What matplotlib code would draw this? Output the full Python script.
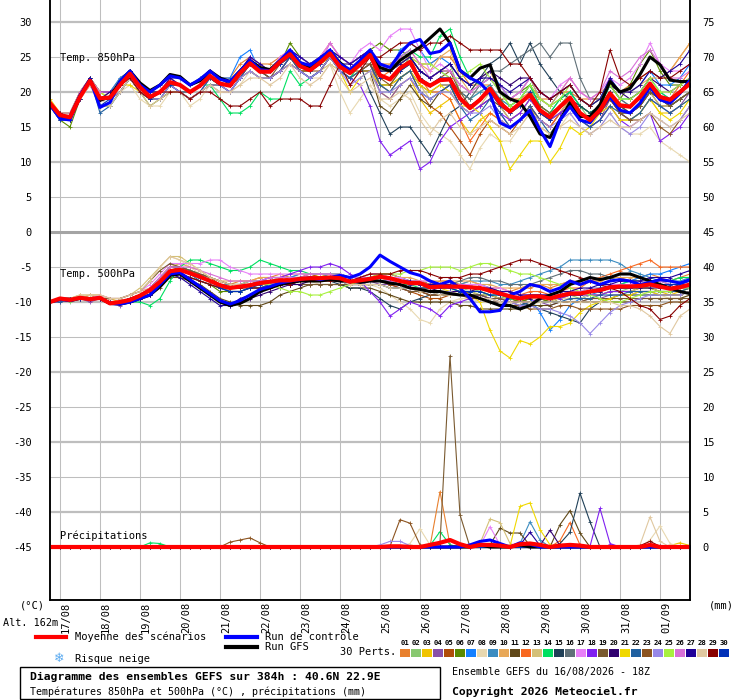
import numpy as np
import matplotlib
matplotlib.use("Agg")
import matplotlib.pyplot as plt
from matplotlib.lines import Line2D
from matplotlib.patches import Rectangle

plt.rcParams.update({
    "font.family": "DejaVu Sans Mono",
    "font.size": 7.5,
})

W, H = 740, 700

# 6h steps from 16/08 18Z, 384h
steps = np.arange(65)
day_labels = ['17/08', '18/08', '19/08', '20/08', '21/08', '22/08', '23/08', '24/08',
              '25/08', '26/08', '27/08', '28/08', '29/08', '30/08', '31/08', '01/09']
day_steps = [1 + 4 * k for k in range(16)]

pert_colors = ['#e8802e', '#88c870', '#f0c400', '#8850a8', '#b04c08', '#5a8a00', '#1480ff', '#e8d8b0',
               '#3c8cc0', '#e8a858', '#604818', '#f86820', '#d4c078', '#00e060', '#204058', '#607078',
               '#e880f8', '#8020f0', '#7a5a30', '#300070', '#f0d800', '#2060a0', '#8c5420', '#9888e8',
               '#a8f040', '#d870d8', '#200098', '#e0c8a0', '#880000', '#0030b8']

# ---- 850 hPa temperature (C)
mean_850 = [18.4, 16.7, 16.4, 19.3, 21.6, 19.1, 19.2, 21.0, 22.6, 20.7, 19.3, 20.0, 21.4, 21.0, 20.0, 20.9,
            22.3, 21.2, 20.9, 22.7, 24.1, 22.9, 22.9, 24.3, 25.4, 23.7, 23.1, 24.2, 25.5, 23.6, 22.7, 23.9,
            25.3, 22.4, 21.8, 23.4, 24.3, 21.7, 20.9, 21.7, 21.8, 19.1, 17.7, 18.9, 20.5, 18.4, 17.2, 18.4,
            19.6, 17.4, 16.4, 17.9, 19.2, 17.0, 16.0, 17.4, 19.8, 18.1, 17.9, 19.3, 21.2, 19.3, 18.9, 20.0, 21.2]
ctrl_850 = [18.2, 16.2, 16.0, 19.5, 21.8, 17.8, 18.5, 21.5, 23.0, 21.0, 20.0, 21.0, 22.3, 22.0, 21.0, 21.8,
            23.0, 21.8, 21.5, 23.0, 24.5, 23.2, 23.0, 24.5, 26.0, 24.2, 23.8, 24.8, 26.0, 24.0, 23.2, 24.5,
            26.0, 24.0, 23.5, 25.5, 27.0, 27.5, 25.5, 25.8, 27.0, 23.1, 22.0, 21.3, 19.8, 15.6, 14.9, 16.0,
            17.4, 14.6, 12.2, 16.0, 17.9, 16.0, 15.6, 17.4, 19.3, 17.4, 17.0, 18.4, 20.7, 18.9, 18.4, 19.8, 21.7]
gfs_850 = [18.3, 16.5, 16.5, 19.5, 21.8, 18.8, 19.3, 21.5, 23.0, 21.3, 20.2, 21.0, 22.5, 22.2, 21.0, 21.6,
           23.0, 22.0, 21.5, 23.0, 24.5, 23.5, 23.2, 24.5, 25.8, 24.2, 23.5, 24.5, 25.8, 24.2, 23.0, 24.3,
           25.8, 23.5, 23.0, 24.5, 25.5, 26.4, 27.7, 29.0, 27.0, 23.1, 22.0, 23.4, 23.9, 20.0, 19.0, 18.5,
           16.5, 14.0, 13.5, 16.0, 18.5, 16.5, 16.5, 18.2, 21.5, 20.0, 20.5, 22.5, 25.0, 23.9, 21.7, 21.5, 21.5]
pert_850 = [
    [18,17,17,20,22,20,20,22,23,21,20,21,22,22,21,22, 23,22,22,24,25,24,24,25,26,25,24,25,27,25,24,25, 26,24,24,25,25,24,24,25,25,23,21,21,21,19,19,19,20,19,19,20,20,19,19,19,21,20,21,22,23,22,23,25,27],
    [18,17,16,19,22,19,19,21,22,20,19,20,21,21,20,21, 22,21,20,22,23,22,22,23,25,23,22,23,25,23,22,23, 24,21,21,23,25,23,22,23,24,20,19,20,21,19,18,19,21,17,16,18,20,18,16,17,20,18,17,18,20,19,18,19,20],
    [19,17,17,20,22,20,20,21,23,21,20,20,22,21,20,21, 22,21,21,22,24,23,22,23,25,23,23,24,25,23,22,23, 23,20,19,21,22,19,17,18,19,16,14,16,17,16,15,16,18,15,14,16,18,16,15,16,18,16,16,17,19,17,17,18,19],
    [18,16,16,19,21,19,19,20,22,20,19,19,21,20,19,20, 21,20,20,22,23,22,22,23,24,23,22,23,25,23,22,23, 24,20,19,21,22,20,19,20,21,18,17,18,19,17,15,16,18,16,15,17,18,16,15,16,19,17,16,17,19,18,17,18,20],
    [18,17,16,19,22,19,20,21,23,21,19,20,21,21,20,21, 22,21,21,23,24,23,23,24,26,24,23,24,25,24,23,24, 25,21,20,22,23,20,18,17,15,13,11,14,16,15,14,16,18,16,15,17,19,17,16,18,20,18,17,18,20,19,18,19,20],
    [18,16,15,19,22,18,18,20,22,20,18,19,20,20,19,20, 21,21,21,23,24,23,23,24,27,25,24,25,26,25,24,25, 26,27,26,26,25,23,22,23,23,21,20,21,22,20,19,20,21,19,18,19,20,18,17,18,21,19,21,24,26,23,21,21,22],
    [18,17,17,20,22,20,20,22,23,21,20,21,22,22,21,22, 23,22,22,25,26,23,23,24,26,25,24,25,26,25,24,25, 26,24,23,26,27,26,24,25,24,22,21,22,23,21,19,20,22,19,18,20,21,19,18,19,22,20,20,21,23,21,21,22,24],
    [18,16,16,19,21,19,18,20,21,19,18,18,20,20,18,19, 21,20,20,21,23,22,22,23,24,23,22,22,24,20,17,19, 21,19,18,19,20,17,15,14,13,11,9,12,14,13,13,15,17,15,14,15,17,15,14,15,17,15,14,14,15,13,12,11,10],
    [18,17,16,19,22,19,19,21,23,21,19,20,21,21,20,21, 22,22,21,23,25,23,23,24,26,24,23,24,26,24,23,24, 26,23,23,24,25,23,22,23,22,20,19,20,21,19,18,19,21,18,17,19,20,18,17,18,21,19,18,19,21,20,19,20,22],
    [18,17,17,19,22,20,19,21,23,21,20,20,22,21,20,21, 23,22,21,23,25,24,23,24,26,24,24,25,26,25,24,25, 25,23,24,25,26,24,23,25,26,22,20,22,23,20,19,20,22,19,18,20,22,20,19,20,21,20,20,21,22,22,23,25,27],
    [18,16,16,19,22,19,19,20,22,20,19,19,20,20,19,20, 21,21,20,22,23,22,22,23,25,23,22,23,25,23,22,23, 23,18,17,19,21,19,18,20,21,18,17,18,19,18,16,17,19,17,16,17,18,17,16,17,19,17,17,18,20,18,18,19,20],
    [18,17,16,19,22,19,19,21,23,21,19,20,21,21,20,21, 22,21,21,23,24,23,23,24,26,24,23,24,26,24,23,24, 25,22,23,24,25,22,20,20,19,16,13,15,17,16,15,16,18,16,15,17,19,17,16,17,20,18,17,18,21,19,19,21,23],
    [18,17,16,19,21,19,19,21,22,20,19,19,21,20,19,20, 22,21,20,22,23,22,22,23,24,23,22,23,24,23,22,23, 24,21,20,22,23,21,19,20,20,18,17,18,20,18,16,17,19,17,16,17,19,17,16,17,19,18,17,18,20,18,18,19,20],
    [18,17,16,19,22,19,19,21,23,21,19,20,21,21,20,21, 21,19,17,17,18,20,19,19,23,21,22,23,25,23,22,24, 25,23,23,25,26,25,25,28,29,25,22,21,22,20,18,19,21,18,17,19,20,18,17,18,21,19,19,20,22,20,19,20,21],
    [18,17,16,19,22,19,19,21,22,20,19,20,21,20,20,21, 22,21,21,23,24,23,23,24,25,24,23,24,25,24,23,24, 20,17,14,15,15,13,11,14,17,18,20,22,24,25,27,24,27,24,22,20,19,18,17,18,20,18,17,18,20,19,18,19,20],
    [18,17,16,19,22,19,19,21,23,21,19,20,21,21,20,21, 22,21,21,23,24,23,23,24,25,24,23,24,26,24,23,24, 25,22,22,23,24,22,21,22,22,20,19,21,23,23,24,25,26,27,25,27,27,22,19,19,21,19,18,19,21,19,19,20,21],
    [18,17,17,20,22,20,20,21,23,21,20,20,22,21,20,21, 23,22,21,23,25,23,23,25,26,25,24,25,27,25,24,26, 27,26,28,29,29,26,23,24,23,21,20,21,22,20,19,20,22,20,19,21,22,20,19,20,22,21,22,24,27,24,23,23,24],
    [18,17,16,19,22,19,19,21,22,20,19,20,21,20,19,20, 22,21,20,22,24,23,22,23,25,23,22,23,25,23,22,21, 18,13,11,12,13,9,10,13,15,16,17,18,19,17,16,17,19,17,16,17,18,16,15,16,18,16,15,16,17,13,14,15,17],
    [18,17,16,19,22,19,19,20,22,20,19,20,21,21,20,21, 22,21,21,22,24,23,22,24,25,23,23,24,25,24,23,24, 24,21,21,22,23,21,20,21,21,19,18,19,20,19,17,18,20,17,16,18,19,17,16,17,19,17,17,18,20,19,18,19,20],
    [18,17,16,19,22,20,20,21,23,21,20,20,21,21,20,21, 22,22,21,23,24,23,23,24,26,24,23,24,26,24,24,25, 26,23,23,24,25,23,22,23,24,22,21,22,23,22,21,22,22,20,19,20,21,19,18,19,21,20,19,20,22,21,20,21,22],
    [18,17,17,20,22,20,19,21,21,20,19,20,21,21,20,21, 22,21,21,23,24,23,23,24,25,24,23,24,25,23,20,22, 23,21,21,22,23,21,20,21,20,18,18,17,15,13,9,11,13,13,10,12,15,14,15,17,18,16,16,17,19,17,16,17,19],
    [18,16,16,19,22,17,18,20,22,20,19,19,21,20,19,20, 22,21,20,22,24,23,22,23,25,23,22,23,25,23,22,23, 24,21,20,22,23,20,19,20,21,18,16,17,19,17,15,16,18,16,14,16,18,16,15,16,18,17,16,17,19,18,17,18,19],
    [18,17,16,19,22,19,19,21,23,21,19,20,21,21,20,21, 22,21,21,23,24,23,22,23,24,23,23,23,25,24,23,23, 24,22,21,23,24,22,21,22,23,20,18,19,20,19,17,18,20,18,17,18,19,17,16,17,19,17,16,16,17,15,14,16,18],
    [18,17,16,19,22,19,19,20,22,20,19,19,21,20,19,20, 21,21,20,22,23,22,22,23,24,23,22,23,25,23,21,22, 23,20,20,21,22,20,19,20,20,18,17,17,18,16,15,16,17,16,15,16,17,15,14,15,17,15,14,15,17,16,15,16,18],
    [18,17,17,19,22,20,19,21,23,21,20,20,21,21,20,21, 22,22,21,23,24,23,23,24,26,24,23,24,26,24,23,24, 25,23,23,24,25,24,24,23,22,22,23,24,22,20,18,19,21,19,18,19,21,19,18,19,21,19,19,20,22,20,20,21,22],
    [18,17,17,20,22,20,20,21,23,21,20,21,22,21,20,21, 22,22,21,23,25,24,23,24,26,24,24,24,27,25,24,25, 26,24,23,25,26,24,22,23,23,21,20,21,22,21,19,20,22,20,19,20,22,20,19,20,23,22,23,25,26,24,22,22,23],
    [18,17,16,19,22,19,20,21,23,21,20,20,22,21,20,21, 23,22,21,23,25,24,23,24,26,25,24,25,26,25,24,25, 26,23,23,24,25,23,22,23,24,22,21,22,22,21,20,21,22,20,19,20,21,19,18,19,22,20,20,21,23,22,23,24,26],
    [18,16,16,19,21,18,18,20,22,20,18,19,20,20,19,20, 21,20,20,21,22,22,21,22,24,22,21,22,24,22,20,21, 22,19,19,20,19,16,14,16,17,15,14,15,16,15,14,15,17,15,14,15,16,15,14,15,16,15,15,16,17,16,15,16,17],
    [18,17,16,19,22,19,19,21,22,20,19,20,20,20,19,20, 20,19,18,18,19,20,18,19,19,19,18,18,21,24,21,23, 25,25,26,27,27,26,27,27,28,27,26,26,26,26,24,24,22,20,19,20,21,19,18,20,26,22,21,22,23,22,22,23,24],
    [18,16,16,19,22,18,19,21,23,21,19,20,21,21,20,21, 22,21,21,23,24,23,23,24,25,24,23,24,26,24,23,24, 25,22,22,23,24,22,21,22,22,19,18,19,20,18,17,18,20,17,16,18,19,17,16,17,20,18,18,19,21,19,19,20,21],
]

# ---- 500 hPa temperature (C)
mean_500 = [-10.0, -9.5, -9.7, -9.4, -9.6, -9.4, -10.2, -10.0, -9.7, -9.1, -8.3, -7.1, -5.6, -5.4, -5.9, -6.4,
            -7.0, -7.6, -8.0, -7.8, -7.6, -7.3, -7.1, -6.9, -6.9, -6.7, -6.6, -6.6, -6.5, -6.6, -7.1, -6.9,
            -6.7, -6.4, -6.6, -7.0, -7.3, -7.3, -7.9, -7.8, -7.8, -7.8, -7.9, -8.0, -8.4, -8.8, -9.2, -9.5,
            -9.2, -9.2, -9.5, -9.1, -8.8, -8.8, -8.5, -8.3, -7.9, -7.8, -7.8, -7.7, -7.5, -7.8, -8.1, -7.9, -7.5]
ctrl_500 = [-10.0, -9.6, -9.8, -9.4, -9.6, -9.4, -10.2, -10.3, -10.0, -9.5, -9.0, -7.5, -6.0, -5.8, -6.8, -7.8,
            -8.8, -9.8, -10.3, -9.8, -9.0, -8.2, -7.8, -7.3, -7.0, -6.8, -6.5, -6.8, -6.5, -6.2, -6.5, -6.0,
            -5.0, -3.3, -4.2, -5.0, -5.8, -6.2, -7.0, -7.5, -7.0, -8.0, -9.5, -11.4, -11.4, -11.2, -9.0, -8.5,
            -7.5, -7.8, -8.5, -8.0, -7.0, -7.5, -7.0, -7.5, -7.0, -6.8, -7.0, -7.5, -7.2, -6.8, -7.0, -7.3, -6.8]
gfs_500 = [-10.0, -9.6, -9.8, -9.5, -9.5, -9.5, -10.2, -10.3, -10.0, -9.5, -9.0, -7.8, -6.2, -6.0, -7.0, -8.0,
           -9.0, -10.0, -10.5, -10.2, -9.5, -8.5, -8.0, -7.5, -7.2, -7.0, -7.0, -7.0, -6.8, -7.0, -7.0, -7.2,
           -7.0, -7.0, -7.3, -7.5, -8.0, -8.2, -8.5, -8.5, -8.8, -9.0, -9.0, -9.5, -10.0, -10.5, -10.5, -11.0,
           -10.5, -9.5, -9.0, -8.5, -7.5, -7.0, -6.5, -6.8, -6.5, -6.0, -6.0, -6.5, -7.0, -7.5, -8.0, -8.5, -8.8]
pert_500 = [
    [-10,-9.5,-9.5,-9.5,-9.5,-9.5,-10,-10,-9.5,-9, -8,-6.5,-5,-5,-5.5,-6,-6.5,-7,-7.5,-7, -7,-6.5,-6.5,-6,-6.5,-6,-6,-6,-6,-6, -6.5,-6.5,-6,-6,-6.5,-6.5,-7,-7,-7.5,-7, -7,-7.5,-7,-7.5,-8,-8,-8.5,-8,-8,-7.5, -8,-7.5,-7,-7.5,-7,-7,-6.5,-6.5,-7,-6.5, -6,-6.5,-7,-6.5,-6],
    [-10,-9.5,-10,-9.5,-9.5,-9.5,-10,-10,-10,-9.5, -9,-7.5,-6,-5.5,-6,-6.5,-7,-7.5,-8.5,-8.5, -8,-7.5,-7.5,-7,-7,-7,-6.5,-7,-7,-7, -7.5,-7.5,-7,-7,-7,-7.5,-8,-8,-8.5,-8.5, -8.5,-8.5,-8,-8.5,-9,-9.5,-9,-10,-9.5,-9.5, -10,-9.5,-9,-9.5,-9,-9,-8.5,-8.5,-8,-8, -8,-8.5,-8.5,-8,-8],
    [-10,-9.5,-9.5,-9,-9.5,-9,-9.5,-10,-9.5,-9, -8,-6.5,-5,-5,-5.5,-6,-6.5,-7,-7.5,-7.5, -7.5,-7,-7,-7,-6.5,-6.5,-6.5,-6,-6.5,-6.5, -7,-7,-6.5,-6.5,-7,-7.5,-8,-8,-8.5,-8.5, -8.5,-9,-9,-9.5,-9.5,-10,-10,-10.5,-10,-10, -10,-9.5,-9.5,-9.5,-9,-9,-8.5,-8.5,-8.5,-8, -8,-8.5,-9,-8.5,-8],
    [-10,-10,-9.5,-9.5,-10,-9.5,-10,-10.5,-10,-9.5, -9,-7.5,-6,-6,-6.5,-7,-7.5,-8,-8.5,-8.5, -8,-8,-7.5,-7.5,-7.5,-7,-7,-7,-7,-7, -7.5,-7.5,-7,-7.5,-7.5,-8,-8.5,-8.5,-9,-9, -9,-9,-9,-9.5,-10,-10.5,-10,-10.5,-10,-10, -10.5,-10,-10,-10,-9.5,-9.5,-9,-9,-9,-8.5, -8.5,-9,-9,-9,-8.5],
    [-10,-9.5,-9.5,-9.5,-9,-9.5,-10,-10,-9.5,-9, -8.5,-7,-5.5,-5,-5.5,-6,-6.5,-7.5,-8,-8, -7.5,-7,-7,-7,-6.5,-6.5,-6,-6.5,-6.5,-6.5, -7,-7,-6.5,-7,-7.5,-8,-8.5,-9,-9.5,-9.5, -9,-9,-8.5,-8.5,-9,-9.5,-9.5,-10,-9.5,-9.5, -10,-9.5,-9,-9,-8.5,-8.5,-8,-8,-8,-7.5, -7.5,-8,-8,-8,-7.5],
    [-10,-9.5,-9.5,-9.5,-9.5,-9.5,-10,-10,-9.5,-9, -8.5,-7.5,-6,-6,-6.5,-7,-7.5,-8.5,-8.5,-8.5, -8,-8,-7.5,-7,-7,-7,-6.5,-6.5,-7,-7, -7.5,-7,-6.5,-6,-6,-6.5,-7,-7,-7.5,-8, -8,-8.5,-8.5,-9,-9,-9.5,-9.5,-10,-9.5,-9.5, -10,-9.5,-9.5,-9.5,-9,-9,-8.5,-8.5,-8.5,-8, -8,-8.5,-8.5,-8.5,-8],
    [-10,-9.5,-9.5,-9.5,-9.5,-9.5,-10,-10,-9.5,-9, -8,-6.5,-5,-5,-5.5,-6,-6.5,-7,-7.5,-7.5, -7,-7,-6.5,-6.5,-6.5,-6,-6,-6,-6,-6, -6.5,-6.5,-6,-6,-6,-6.5,-7,-7,-7.5,-7.5, -7.5,-7.5,-7.5,-7.5,-8,-8.5,-8.5,-9,-9.5,-11.5, -14,-12.5,-10.5,-9.5,-9,-8.5,-8,-7.5,-7,-6.5, -6,-6,-5.5,-5,-4.5],
    [-10,-9.5,-9.5,-9,-9.5,-9,-9.5,-9.5,-9,-8.5, -7,-5,-3.5,-4,-5,-6,-7,-7.5,-8,-8, -7.5,-7.5,-7,-7,-7,-7,-7,-7.5,-7.5,-7.5, -8,-8,-7.5,-8,-9,-10,-11,-12.5,-13,-11, -10,-9.5,-9.5,-10,-10,-10.5,-10.5,-11,-10.5,-10, -10,-9.5,-9.5,-9.5,-9,-9,-8.5,-8.5,-8.5,-8.5, -9,-9,-9.5,-9.5,-9],
    [-10,-9.5,-9.5,-9.5,-9.5,-9.5,-10,-10,-9.5,-9, -8.5,-7,-5.5,-5.5,-6,-6.5,-7,-7.5,-7.5,-7.5, -7,-7,-7,-6.5,-6.5,-6.5,-6.5,-6.5,-6,-6, -6.5,-6.5,-6.5,-6.5,-6.5,-7,-7,-7,-7.5,-7.5, -7.5,-7.5,-7,-7,-7,-7.5,-7.5,-7,-6.5,-6, -5.5,-5,-4,-4,-4,-4,-4,-4.5,-5.5,-6, -6.5,-7,-7,-7,-6.5],
    [-10,-9.5,-9.5,-9.5,-9,-9,-9.5,-9.5,-9,-8.5, -8,-6.5,-5,-4.5,-5,-5.5,-6.5,-7,-7,-7, -7,-6.5,-6.5,-6.5,-6,-6,-6,-6,-6,-6, -6.5,-6.5,-6,-6,-6,-6.5,-6.5,-7,-7,-7, -7,-7,-7,-7.5,-7.5,-8,-8,-8,-7.5,-7.5, -7.5,-7.5,-7,-7,-7,-7,-6.5,-6.5,-6.5,-6.5, -7,-7,-7,-6.5,-6.5],
    [-10,-9.5,-9.5,-9.5,-9.5,-9.5,-10,-10,-10,-9.5, -9,-8,-6.5,-6.5,-7,-7.5,-8.5,-9.5,-10,-10.5, -10.5,-10.5,-10,-9,-8.5,-8,-7.5,-7.5,-7.5,-7.5, -8,-8,-8,-8.5,-9,-9.5,-10,-10,-10,-10, -10,-10.5,-10.5,-11,-11,-11,-11,-11,-10.5,-10.5, -10.5,-10,-10,-10,-10,-10,-10,-10,-10,-9.5, -9.5,-9.5,-9.5,-9.5,-9],
    [-10,-9.5,-9.5,-9.5,-9.5,-9.5,-10,-10,-9.5,-9, -8.5,-7,-5.5,-5.5,-6,-6.5,-7,-7.5,-8,-8, -7.5,-7.5,-7,-7,-7,-6.5,-6.5,-6.5,-6.5,-6.5, -7,-7,-6.5,-6.5,-6.5,-7,-7,-7,-7.5,-7.5, -8,-8,-8,-8,-8,-8.5,-8.5,-9,-8.5,-8.5, -9,-8.5,-8,-8,-7,-6.5,-6,-5.5,-5,-4.5, -4,-5,-5,-5,-5],
    [-10,-9.5,-9.5,-9,-9,-9,-9.5,-9.5,-9,-8, -6.5,-5,-3.5,-3.5,-4.5,-5.5,-6.5,-7,-7.5,-7.5, -7,-7,-7,-6.5,-6.5,-6.5,-6.5,-6.5,-6.5,-6.5, -7,-7,-7,-7,-7,-7.5,-8,-8,-8.5,-8.5, -8.5,-8.5,-8.5,-9,-9,-9.5,-9.5,-9.5,-9.5,-9.5, -9.5,-9.5,-9,-9,-9,-9,-8.5,-8.5,-8.5,-8, -8,-8.5,-8.5,-8.5,-8],
    [-10,-9.5,-9.5,-9.5,-9.5,-9.5,-10,-10,-10,-10, -10.5,-9.5,-7,-5,-4,-4,-4.5,-5,-5.5,-5.5, -5,-4,-4.5,-5,-5.5,-5.5,-6,-6,-6,-6, -6.5,-6.5,-6.5,-7,-7,-7.5,-7.5,-8,-8,-8, -8,-8.5,-8.5,-8.5,-9,-9,-9.5,-9.5,-9,-9, -9,-9,-8.5,-8.5,-8,-8,-7.5,-7.5,-7,-7, -7,-7,-7,-6.5,-6.5],
    [-10,-9.5,-9.5,-9.5,-9.5,-9.5,-10,-10,-9.5,-9, -8.5,-7,-5.5,-5.5,-6,-6.5,-7,-7.5,-8,-8, -7.5,-7.5,-7,-7,-7,-7,-7,-7,-7,-7.5, -8,-8,-8.5,-9.5,-10.5,-11,-10,-9.5,-9,-9, -9,-9,-9,-9,-9.5,-10,-10,-10,-10.5,-11, -11.5,-12,-12.5,-13,-11,-10,-9.5,-9,-9,-9, -9,-9,-9,-9,-8.5],
    [-10,-9.5,-9.5,-9.5,-9.5,-9.5,-10,-10,-9.5,-9, -8,-6.5,-5,-5,-5.5,-6,-7,-7.5,-8,-8, -7.5,-7,-7,-7,-7,-6.5,-6.5,-6.5,-6.5,-6.5, -7,-7,-6.5,-6.5,-6.5,-7,-7.5,-7.5,-7.5,-7.5, -7.5,-7,-6.5,-6.5,-7,-7,-7.5,-7.5,-7.5,-7, -6.5,-6,-5.5,-5.5,-6,-6,-6.5,-7,-7,-7, -7,-7,-7.5,-7.5,-7],
    [-10,-9.5,-9.5,-9.5,-9.5,-9,-9.5,-9.5,-9,-8.5, -7.5,-6,-4.5,-4.5,-4.5,-4.5,-4,-4,-5,-5.5, -6,-6,-6,-6,-6,-6,-6,-6,-6,-6, -6.5,-6.5,-6,-6,-6.5,-6.5,-7,-7,-7,-7.5, -7.5,-7.5,-7.5,-7.5,-8,-8,-8.5,-9,-9,-9, -9,-8.5,-8.5,-8.5,-8,-8,-7.5,-7.5,-7.5,-7, -7,-7.5,-7.5,-7.5,-7],
    [-10,-9.5,-9.5,-9.5,-9.5,-9.5,-10,-10,-9.5,-9, -8.5,-7,-5.5,-5.5,-6,-6.5,-7,-7.5,-8,-8, -7.5,-7,-6.5,-6.5,-6,-5.5,-5,-5,-4.5,-5, -6,-7,-8.5,-10,-12,-11,-10,-10.5,-11,-12, -10.5,-10,-9.5,-9,-9.5,-9.5,-10,-10,-10,-9.5, -9.5,-9.5,-9,-9,-9,-9,-8.5,-8.5,-8.5,-8.5, -8.5,-8.5,-8.5,-8,-8],
    [-10,-9.5,-9.5,-9.5,-9.5,-9.5,-9.5,-9.5,-9,-8.5, -7,-5.5,-4.5,-5,-5.5,-6,-6.5,-7,-7.5,-7.5, -7.5,-7.5,-7.5,-7.5,-7.5,-7.5,-7.5,-7.5,-7.5,-7.5, -7.5,-7.5,-7.5,-7.5,-8,-8,-8.5,-8.5,-9,-9, -9,-9,-9,-9,-9.5,-9.5,-10,-10,-10,-10, -10,-10,-10,-10,-9.5,-9.5,-9.5,-9.5,-9.5,-9.5, -9.5,-9.5,-9.5,-9.5,-9.5],
    [-10,-9.5,-9.5,-9.5,-9.5,-9.5,-10,-10,-10,-9.5, -9,-7.5,-6,-6,-7,-8,-9,-10,-10.5,-10, -9.5,-9,-8.5,-8,-7.5,-7.5,-7,-7,-7,-7, -7.5,-7.5,-7,-7,-7,-7.5,-8,-8,-8,-8.5, -8.5,-8.5,-8.5,-8,-8.5,-9,-9,-9.5,-9.5,-9, -9.5,-9,-9,-9,-8.5,-8.5,-8,-8,-8,-8, -8,-8,-8,-7.5,-7.5],
    [-10,-9.5,-9.5,-9.5,-9.5,-9.5,-10,-10,-9.5,-9, -8.5,-7,-5.5,-5.5,-6,-6.5,-7,-7.5,-8,-8, -7.5,-7.5,-7,-7,-7,-6.5,-6.5,-6.5,-6.5,-6.5, -7,-7,-6.5,-6.5,-7,-7,-7.5,-7.5,-8,-8, -8.5,-9,-9,-10,-14,-17,-18,-15.5,-16,-15, -13.5,-13.5,-13,-11.5,-10.5,-10,-9.5,-9,-9,-8.5, -8.5,-9,-9,-9,-8.5],
    [-10,-10,-9.5,-9.5,-9.5,-9.5,-10,-10,-9.5,-9, -8.5,-7,-5.5,-5.5,-6,-7,-7.5,-8,-8.5,-8.5, -8,-8,-7.5,-7.5,-7.5,-7,-7,-7,-7,-7, -7.5,-7.5,-7.5,-7.5,-8,-8,-8,-8.5,-8.5,-9, -9,-9,-9,-9.5,-10,-10,-10.5,-10.5,-10,-10, -10,-10,-9.5,-9.5,-9.5,-9,-9,-9,-8.5,-8.5, -8.5,-8.5,-8.5,-8.5,-8],
    [-10,-9.5,-9.5,-9.5,-9.5,-9.5,-10,-10,-9.5,-9, -8.5,-7,-5.5,-5.5,-6,-6.5,-7,-7.5,-8,-8, -7.5,-7.5,-7,-7,-7,-6.5,-6.5,-6.5,-6.5,-7, -7,-7,-7,-7,-7.5,-7.5,-8,-8.5,-9,-9, -9,-9,-9.5,-9.5,-10,-10,-10.5,-10.5,-11,-11, -11,-10.5,-10.5,-11,-11,-11,-11,-11,-10.5,-10.5, -10.5,-10.5,-10,-10,-10],
    [-10,-9.5,-9.5,-9.5,-9.5,-9.5,-10,-10,-9.5,-9, -8.5,-7,-5.5,-5.5,-6,-6.5,-7,-7.5,-8,-8, -7.5,-7.5,-7.5,-7,-7,-7,-7,-7,-7,-7, -7.5,-7.5,-7,-7,-7,-7.5,-8,-8,-8.5,-8.5, -8.5,-9,-9,-9.5,-9.5,-10,-10,-10.5,-10.5,-11, -11,-11.5,-12,-13,-14.5,-13,-11.5,-10.5,-10,-9.5, -9,-9,-9,-9,-8.5],
    [-10,-9.5,-9.5,-9.5,-9.5,-9.5,-10,-10,-9.5,-9, -8.5,-7,-5.5,-5.5,-6,-6.5,-7,-7.5,-8,-8, -7.5,-7.5,-7.5,-8,-8.5,-8.5,-9,-9,-8.5,-8, -7.5,-7,-6.5,-6,-6,-6,-5.5,-5.5,-5,-5, -5,-5.5,-5,-4.5,-4.5,-5,-5.5,-6,-6,-6.5, -7,-7.5,-8,-8.5,-9,-9.5,-10,-10,-9.5,-9, -8.5,-8.5,-8.5,-8,-8],
    [-10,-9.5,-9.5,-9.5,-9.5,-9.5,-10,-10,-9.5,-9, -8,-6.5,-5,-5,-5,-5.5,-6,-6.5,-7,-7, -7,-7,-6.5,-6.5,-6.5,-6.5,-6,-6,-6,-6.5, -6.5,-6.5,-6.5,-6.5,-7,-7,-7.5,-7.5,-7.5,-8, -8,-8,-8,-8,-8.5,-8.5,-9,-9,-9,-9, -9,-9,-8.5,-8.5,-8.5,-8,-8,-7.5,-7.5,-7.5, -7,-7,-7.5,-7.5,-7],
    [-10,-9.5,-9.5,-9.5,-9.5,-9.5,-10,-10,-10,-9.5, -9,-7.5,-6,-6.5,-7.5,-8.5,-9.5,-10.5,-10.5,-9.5, -9,-8.5,-8,-7.5,-7.5,-7,-7,-7,-6.5,-6.5, -7,-7,-6.5,-6.5,-6.5,-7,-7,-7.5,-7.5,-7.5, -7.5,-8,-8,-8,-8,-8.5,-8.5,-9,-9,-9, -9,-8.5,-8.5,-8,-8,-7.5,-7.5,-7,-7,-7, -6.5,-6.5,-6.5,-6,-5.5],
    [-10,-9.5,-9.5,-9,-9,-9,-9.5,-9.5,-9,-8.5, -7,-5,-3.5,-4,-4.5,-5.5,-6.5,-7,-7.5,-7.5, -7.5,-7.5,-7,-7,-7,-7,-7,-7,-7,-7, -7.5,-7.5,-7.5,-7.5,-8,-8,-8,-8.5,-8.5,-9, -9,-9,-9,-9.5,-9.5,-10,-10,-10,-10,-10, -10,-10,-10,-10,-10,-10,-10,-10.5,-10.5,-11, -12,-13.5,-14.5,-12,-11],
    [-10,-9.5,-9.5,-9.5,-9.5,-9.5,-10,-10,-9.5,-9, -8.5,-7.5,-6,-6,-6.5,-7,-7.5,-8,-8,-8, -8,-8,-8,-7.5,-7.5,-7,-7,-7,-7,-7, -7,-6.5,-6,-6,-6,-5.5,-5.5,-5.5,-6,-6.5, -6.5,-6.5,-6,-6,-5.5,-5,-4.5,-4,-4,-4.5, -5,-5.5,-6,-6.5,-7,-7.5,-8,-8.5,-9.5,-10.5, -11,-12.5,-12,-10.5,-9.5],
    [-10,-9.5,-9.5,-9.5,-9.5,-9.5,-10,-10,-9.5,-9, -8.5,-7,-6,-5.5,-6,-6.5,-7,-8,-8.5,-8.5, -8,-7.5,-7,-7,-7,-6.5,-6.5,-6.5,-6.5,-7, -7,-7,-6.5,-6.5,-6.5,-7,-7.5,-7.5,-8,-8, -8,-8.5,-8.5,-8.5,-9,-9,-9,-9.5,-9,-9, -9.5,-9,-9,-9,-8.5,-8,-8,-8,-8,-7.5, -7.5,-7.5,-7.5,-7.5,-7],
]

# ---- precipitation (mm per 6h), only non-zero steps listed
precip_mean = {34: 0.1, 35: 0.1, 38: 0.3, 39: 0.6, 40: 1.0, 41: 0.4, 43: 0.3, 44: 0.3, 45: 0.2,
               47: 0.4, 48: 0.5, 49: 0.3, 51: 0.2, 52: 0.3, 53: 0.2, 60: 0.3}
precip_ctrl = {42: 0.3, 43: 0.8, 44: 1.0, 45: 0.5, 47: 0.6, 48: 0.4}
precip_gfs = {43: 0.3, 47: 0.3}
precip_pert = {
    1: {38: 0.1, 39: 7.9, 40: 0.3},
    3: {62: 0.2, 63: 0.6, 64: 0.2},
    8: {36: 0.5, 37: 2.6, 38: 0.3, 60: 1.0, 61: 3.0, 62: 0.5},
    9: {47: 0.5, 48: 3.6, 49: 1.0},
    11: {44: 0.3, 45: 2.7, 46: 2.0, 47: 2.0, 48: 0.2, 51: 3.2, 52: 5.2, 53: 2.0},
    12: {51: 0.9, 52: 3.5, 53: 0.3},
    13: {43: 0.5, 44: 4.0, 45: 3.5, 46: 0.5},
    14: {10: 0.6, 11: 0.5, 38: 0.2, 39: 2.2, 40: 0.3},
    15: {51: 0.5, 52: 2.1, 53: 7.7, 54: 3.6},
    17: {43: 0.2, 44: 2.9, 45: 0.3},
    18: {54: 0.1, 55: 5.5, 56: 0.5},
    19: {39: 0.6, 40: 27.3, 41: 4.6},
    20: {49: 0.2, 50: 2.4, 51: 0.2},
    21: {46: 0.1, 47: 5.8, 48: 6.3, 49: 2.5, 50: 0.3},
    23: {18: 0.7, 19: 1.0, 20: 1.3, 21: 0.6, 34: 0.1, 35: 3.9, 36: 3.4, 37: 0.3},
    24: {33: 0.3, 34: 0.8, 35: 0.8, 36: 0.2},
    27: {47: 0.3, 48: 2.1, 49: 0.2},
    28: {59: 0.3, 60: 4.3, 61: 0.8},
    29: {59: 0.2, 60: 0.8, 61: 0.1},
}
PRECIP_ZERO = -45   # precipitation is drawn on the temperature scale, 0 mm at -45

for r in pert_850 + pert_500 + [mean_850, ctrl_850, gfs_850, mean_500, ctrl_500, gfs_500]:
    assert len(r) == 65, len(r)


def precip_series(events):
    p = np.zeros(65)
    for i, v in events.items():
        p[i] = v
    return p + PRECIP_ZERO


def fx(px):
    return px / W


def fy(py):
    return 1 - py / H


fig = plt.figure(figsize=(W / 100, H / 100), dpi=100)
ax = fig.add_axes([fx(50), fy(600), fx(640), 600 / H])
y_top = 232 / 7.0
y_bot = (232 - 600) / 7.0
ax.set_xlim(0, 64)
ax.set_ylim(y_bot, y_top)

grid_c = '#bebebe'
for s in day_steps:
    ax.axvline(s, color=grid_c, lw=0.75, zorder=0)
for v in range(-40, 31, 5):
    if v == 0:
        ax.axhline(v, color='#a4a4a4', lw=2.2, zorder=0)
    else:
        ax.axhline(v, color=grid_c, lw=1.6 if v % 10 == 0 else 0.75, zorder=0)

mk = dict(marker='+', ms=2.6, mew=0.6)
thin = 0.8

# temperatures
for k in range(30):
    ax.plot(steps, pert_850[k], color=pert_colors[k], lw=thin, zorder=2, **mk)
    ax.plot(steps, pert_500[k], color=pert_colors[k], lw=thin, zorder=2, **mk)
# precipitation
for k in range(30):
    ev = precip_pert.get(k + 1, {})
    ax.plot(steps, precip_series(ev), color=pert_colors[k], lw=thin, zorder=2, **mk)

for series, col, lw, z in [((gfs_850, gfs_500, precip_gfs), 'black', 2.2, 3),
                           ((ctrl_850, ctrl_500, precip_ctrl), '#0000ff', 2.2, 4),
                           ((mean_850, mean_500, precip_mean), '#ff0000', 3.0, 5)]:
    t850, t500, pr = series
    ax.plot(steps, t850, color=col, lw=lw, zorder=z)
    ax.plot(steps, t500, color=col, lw=lw, zorder=z)
    ax.plot(steps, precip_series(pr), color=col, lw=lw, zorder=z)

yt = np.arange(-45, 31, 5)
ax.set_yticks(yt)
ax.set_yticklabels([str(v) for v in yt])
ax.set_xticks([])
ax.tick_params(axis='y', length=0, pad=13, labelsize=7.5)
ax2 = ax.twinx()
ax2.set_ylim(y_bot, y_top)
ax2.set_yticks(yt)
ax2.set_yticklabels([str(v + 45) for v in yt])
ax2.tick_params(axis='y', length=0, pad=9, labelsize=7.5)
for a in (ax, ax2):
    a.spines['top'].set_visible(False)
    for sp in ('left', 'right', 'bottom'):
        a.spines[sp].set_linewidth(1.1)

ax.text(1, 24.9, 'Temp. 850hPa', fontsize=7.5, va='center', zorder=6)
ax.text(1, -6.0, 'Temp. 500hPa', fontsize=7.5, va='center', zorder=6)
ax.text(1, -43.4, 'Précipitations', fontsize=7.5, va='center', zorder=6)

# date labels under the plot
for s, d in zip(day_steps, day_labels):
    fig.text(fx(50 + 10 * s + 1), fy(602), d, rotation=90, ha='left', va='top', fontsize=7.5)

fig.text(fx(32), fy(606), '(°C)', ha='center', va='center', fontsize=7.5)
fig.text(fx(721), fy(606), '(mm)', ha='center', va='center', fontsize=7.5)
fig.text(fx(3), fy(623), 'Alt. 162m', ha='left', va='center', fontsize=7.3)

# legend
def leg_line(x0, x1, y, col, lw):
    fig.add_artist(Line2D([fx(x0), fx(x1)], [fy(y), fy(y)], transform=fig.transFigure, color=col, lw=lw))

leg_line(36, 66, 637, '#ff0000', 3.0)
fig.text(fx(75), fy(637), 'Moyenne des scénarios', va='center', fontsize=7.5)
leg_line(226, 257, 637, '#0000ff', 3.0)
fig.text(fx(265), fy(637), 'Run de contrôle', va='center', fontsize=7.5)
leg_line(226, 257, 647, 'black', 3.0)
fig.text(fx(265), fy(647), 'Run GFS', va='center', fontsize=7.5)
fig.text(fx(59), fy(658), '❄', ha='center', va='center', fontsize=9, color='#5aaaf0',
         family='DejaVu Sans')
fig.text(fx(75), fy(659), 'Risque neige', va='center', fontsize=7.5)
fig.text(fx(396), fy(652), '30 Perts.', ha='right', va='center', fontsize=7.5)
for k in range(30):
    x0 = 400 + 11 * k
    fig.add_artist(Rectangle((fx(x0), fy(657)), 10 / W, 8 / H, transform=fig.transFigure,
                             facecolor=pert_colors[k], edgecolor='none'))
    fig.text(fx(x0 + 5), fy(643), '%02d' % (k + 1), ha='center', va='center', fontsize=5.2,
             fontweight='bold')

# title box
fig.add_artist(Rectangle((fx(20), fy(699)), 420 / W, 32 / H, transform=fig.transFigure,
                         facecolor='none', edgecolor='black', lw=1.0))
fig.text(fx(30), fy(677), 'Diagramme des ensembles GEFS sur 384h : 40.6N 22.9E', va='center',
         fontsize=8.2, fontweight='bold')
fig.text(fx(30), fy(692), 'Températures 850hPa et 500hPa (°C) , précipitations (mm)', va='center',
         fontsize=7.2)
fig.text(fx(452), fy(672), 'Ensemble GEFS du 16/08/2026 - 18Z', va='center', fontsize=7.2)
fig.text(fx(452), fy(692), 'Copyright 2026 Meteociel.fr', va='center', fontsize=8.2, fontweight='bold')

fig.savefig('out.png', dpi=100)
